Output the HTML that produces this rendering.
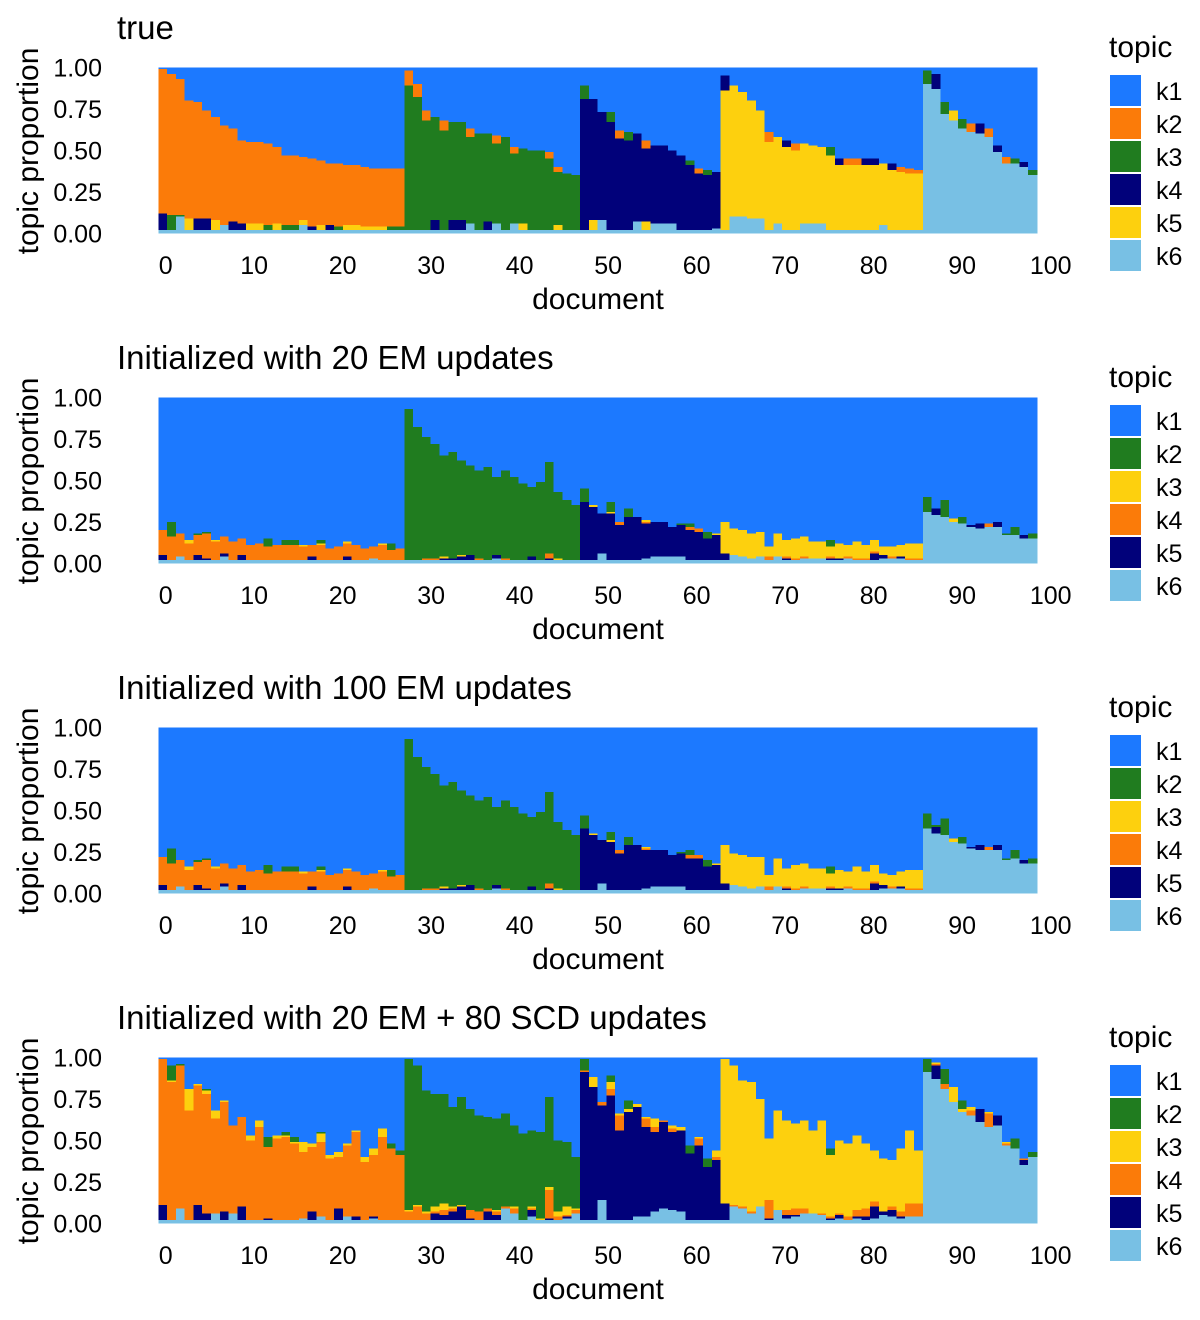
<!DOCTYPE html>
<html><head><meta charset="utf-8"><style>
html,body{margin:0;padding:0;background:#fff;}
svg{display:block;font-family:"Liberation Sans",Arial,sans-serif;}
</style></head><body>
<svg id="chart" width="1200" height="1320" viewBox="0 0 1200 1320" xmlns="http://www.w3.org/2000/svg"></svg>
<script>
// ---- data (percent) ----
const documents = Array.from({length:100},(_, i)=>i);
const xTickValues = [0,10,20,30,40,50,60,70,80,90,100];
const yTickValues = [0,0.25,0.5,0.75,1];
const yTickLabels = ["0.00","0.25","0.50","0.75","1.00"];
const panelTitles = ["true","Initialized with 20 EM updates","Initialized with 100 EM updates","Initialized with 20 EM + 80 SCD updates"];
const topicNames = ["k1","k2","k3","k4","k5","k6"];

// panel 1 (true)
const p1_k6 = [2,2,10,2,2,2,2,5,2,2,2,2,2,2,2,2,5,2,2,2,2,2,2,2,2,2,2,2, 2,2,2,2,2,2,2,6,2,2,6,2,6,2,2,2,2,2,2,2, 2,2,8,2,2,2,7,2,6,6,6,2,2,2,2,3, 2,10,10,9,9,2,6,2,2,6,6,6,2,2,2,2,2,2,5,2,2,2,2, 90,87,72,68,63,61,60,58,49,42,42,40,35];
const p1_k5 = [0,0,0,7,0,0,6,0,0,0,4,4,0,4,0,0,3,0,3,0,0,3,3,2,2,2,0,0, 0,0,0,0,0,0,0,0,0,0,0,0,0,4,0,0,0,3,0,0, 0,6,0,0,0,0,0,5,0,0,0,0,0,0,0,0, 84,79,75,71,65,53,52,50,48,48,47,46,45,39,39,39,39,39,37,36,35,34,34, 0,0,0,6,0,0,0,0,0,0,0,0,0];
const p1_k4 = [10,0,0,0,7,7,0,0,5,4,0,0,0,0,0,0,0,2,0,3,0,0,0,0,0,0,0,0, 0,0,0,6,0,6,6,0,0,5,0,0,0,0,0,0,0,0,0,0, 79,73,65,65,55,54,53,44,47,47,44,45,39,34,33,34, 9,0,0,0,0,0,0,4,0,0,0,0,0,4,0,0,4,4,0,4,0,0,0, 0,9,0,0,0,0,6,0,4,0,0,3,0];
const p1_k3 = [0,9,1,0,0,0,0,0,0,0,0,0,3,0,3,3,0,0,0,0,2,0,0,0,0,0,2,2, 87,80,66,62,60,59,59,52,58,53,48,56,42,45,48,48,43,32,34,33, 8,0,0,6,0,5,0,0,0,0,0,0,3,0,3,0, 0,0,0,0,0,0,0,0,0,0,0,0,5,0,0,0,0,0,0,0,0,0,0, 8,0,7,0,6,0,0,0,0,0,3,0,3];
const p1_k2 = [87,85,82,71,70,65,62,60,56,50,49,49,49,46,42,42,38,41,39,37,38,36,36,36,35,35,35,35, 9,8,6,0,6,0,0,5,0,0,5,0,4,0,0,0,4,3,0,0, 0,0,0,0,5,0,0,5,0,0,0,0,0,3,0,0, 0,0,0,0,0,6,0,0,4,0,0,0,0,0,4,4,0,0,0,0,3,3,2, 0,0,0,0,0,5,0,5,0,4,0,0,0];

// panel 2 (20 EM)
const p2_k6 = [2,2,4,2,2,2,2,4,2,2,2,2,2,2,2,2,2,2,2,2,2,2,2,2,3,2,2,2, 2,2,2,2,2,2,2,2,2,2,3,2,2,2,2,2,2,2,2,2, 2,2,6,2,2,2,2,3,4,4,4,4,2,2,2,2, 2,5,4,3,4,2,4,2,2,3,3,3,2,2,3,2,2,2,3,3,3,2,2, 31,29,28,25,24,22,21,22,22,17,17,15,15];
const p2_k5 = [3,0,0,0,3,1,0,2,0,3,0,0,0,0,0,0,0,2,0,0,0,2,0,0,0,0,0,0, 0,0,0,0,1,1,2,3,0,0,2,0,0,0,2,0,1,0,0,0, 35,32,24,28,21,26,26,21,21,21,18,19,18,17,13,15, 4,0,0,0,0,0,0,1,0,0,0,0,1,1,0,0,0,4,2,0,1,0,0, 0,4,0,0,0,1,3,0,3,0,0,2,0];
const p2_k4 = [15,14,14,10,12,15,11,10,11,10,9,10,8,9,9,9,8,7,9,7,8,8,9,7,7,9,6,7, 0,0,1,1,0,0,0,0,1,0,0,1,0,0,0,0,3,0,0,0, 0,0,0,0,2,0,0,1,0,0,0,0,2,2,0,0, 0,0,0,0,0,2,0,1,1,1,0,0,1,0,1,1,1,1,0,1,0,1,1, 0,0,0,0,0,0,0,2,0,0,0,0,0];
const p2_k3 = [0,0,0,2,0,0,1,0,0,0,0,0,0,0,0,0,1,0,1,0,0,1,0,0,0,1,0,0, 0,0,0,0,1,0,1,0,0,0,0,0,0,0,0,0,0,1,0,0, 0,1,0,1,0,0,0,1,0,0,0,0,0,0,0,1, 19,16,16,15,15,6,14,10,12,12,10,10,6,9,7,10,8,7,5,6,7,9,9, 0,0,0,2,0,0,0,0,0,0,0,0,0];
const p2_k2 = [0,9,0,0,1,1,0,0,0,0,0,0,5,0,3,3,0,0,2,0,0,0,0,0,0,0,4,0, 91,80,73,69,61,64,57,54,53,56,47,53,50,46,42,47,55,40,36,33, 8,0,0,6,0,5,0,0,0,0,0,1,2,0,4,0, 0,0,0,0,0,0,0,0,0,0,0,0,4,0,0,0,0,0,0,0,0,0,0, 9,0,10,0,4,0,0,0,0,1,5,0,3];

// panel 3 (100 EM)
const p3_k6 = [2,2,4,2,2,2,2,4,2,2,2,2,2,2,2,2,2,2,2,2,2,2,2,2,3,2,2,2, 2,2,2,2,2,2,2,2,2,2,3,2,2,2,2,2,2,2,2,2, 2,2,6,2,2,2,2,3,4,4,4,4,2,2,2,2, 2,5,4,3,4,2,4,2,2,3,3,3,2,2,3,2,2,2,3,3,3,2,2, 39,36,35,31,30,27,26,26,26,20,21,18,18];
const p3_k5 = [3,0,0,0,3,1,0,2,0,3,0,0,0,0,0,0,0,2,0,0,0,2,0,0,0,0,0,0, 0,0,0,0,1,1,2,3,0,0,2,0,0,0,2,0,1,0,0,0, 37,33,26,29,22,27,27,23,22,22,19,20,19,19,14,15, 4,0,0,0,0,0,0,1,0,0,0,0,1,1,0,0,0,4,2,0,1,0,0, 0,4,0,0,0,1,3,0,3,0,0,2,0];
const p3_k4 = [17,16,16,12,14,17,13,12,13,12,11,12,10,11,11,11,10,9,11,9,10,10,11,9,9,11,8,9, 0,0,1,1,0,0,0,0,1,0,0,1,0,0,0,0,3,0,0,0, 0,0,0,0,2,0,0,1,0,0,0,0,2,2,0,0, 0,0,0,0,0,2,0,1,1,1,0,0,1,0,1,1,1,1,0,1,0,1,1, 0,0,0,0,0,0,0,2,0,0,0,0,0];
const p3_k3 = [0,0,0,2,0,0,1,0,0,0,0,0,0,0,0,0,1,0,1,0,0,1,0,0,0,1,0,0, 0,0,0,0,1,0,1,0,0,0,0,0,0,0,0,0,0,1,0,0, 0,1,0,1,0,0,0,1,0,0,0,0,0,0,0,1, 23,19,19,19,18,7,17,11,14,14,12,12,8,11,9,13,10,10,7,7,9,11,11, 0,0,0,2,0,0,0,0,0,0,0,0,0];
const p3_k2 = [0,9,0,0,1,1,0,0,0,0,0,0,5,0,3,3,0,0,2,0,0,0,0,0,0,0,4,0, 91,80,73,69,61,64,57,54,53,56,47,53,50,46,42,47,55,40,36,33, 8,0,0,5,0,5,0,0,0,0,0,1,3,0,4,0, 0,0,0,0,0,0,0,0,0,0,0,0,4,0,0,0,0,0,0,0,0,0,0, 9,1,10,0,4,0,0,0,0,1,5,0,3];

// panel 4 (20 EM + 80 SCD)
const p4_k6 = [2,2,9,2,2,2,6,2,6,2,2,2,2,2,2,2,3,2,4,2,2,4,2,2,3,2,2,2, 2,2,2,2,2,2,2,2,2,2,2,9,6,2,4,2,2,2,3,6, 2,2,14,2,2,2,4,4,7,9,8,7,2,2,2,2, 2,10,9,6,10,2,8,3,4,6,6,5,2,3,2,3,2,3,5,4,3,4,4, 91,87,81,73,67,65,61,58,59,47,45,35,40];
const p4_k5 = [9,0,0,0,9,4,0,5,0,8,0,0,1,0,0,0,0,5,0,0,7,0,2,0,1,0,0,0, 0,0,0,4,3,5,8,1,0,5,3,0,0,0,4,0,1,0,1,0, 89,80,57,75,54,65,66,54,48,52,47,49,40,45,32,36, 10,0,0,0,0,1,0,2,1,0,0,0,1,2,0,1,2,7,2,4,1,0,0, 0,8,0,0,0,0,8,0,6,0,0,3,0];
const p4_k4 = [88,83,86,66,72,72,57,66,53,54,48,56,43,49,50,46,40,39,45,37,31,43,51,35,37,50,43,39, 5,8,4,1,3,2,0,5,5,2,2,1,3,0,1,0,17,2,1,2, 1,0,2,4,9,0,0,5,3,1,2,0,0,4,0,2, 0,1,1,1,0,11,0,3,4,3,0,1,1,1,2,4,5,3,0,2,3,8,8, 0,1,3,0,0,3,0,8,0,1,0,1,0];
const p4_k3 = [0,1,0,13,1,2,5,1,0,0,3,4,0,2,1,1,6,2,5,2,3,1,1,3,4,5,0,0, 1,1,1,3,4,1,1,0,0,0,1,0,1,0,1,1,2,3,5,1, 0,6,0,4,1,2,2,1,5,0,2,2,0,1,0,4, 87,84,76,78,65,37,60,54,51,53,50,56,37,44,44,45,39,31,32,28,38,44,32, 0,1,0,9,2,2,0,1,0,1,0,0,0];
const p4_k2 = [0,9,1,0,0,1,0,0,0,0,0,0,6,0,2,3,0,0,1,0,0,0,0,0,0,0,3,3, 91,84,73,68,66,60,65,61,58,55,55,56,49,52,46,52,54,43,39,31, 7,0,0,4,0,5,0,0,0,0,0,0,5,0,5,0, 0,0,0,0,0,0,0,0,0,0,0,0,4,0,0,0,0,0,0,0,0,0,0, 8,0,9,0,5,0,0,0,0,0,6,0,3];

// ---- drawing ----
const C_BLUE="#1c79ff", C_ORANGE="#fb7b09", C_GREEN="#207c1f", C_NAVY="#01017a", C_YELLOW="#fdd00e", C_LBLUE="#78c0e4";
const panelColors = [
  [C_BLUE,C_ORANGE,C_GREEN,C_NAVY,C_YELLOW,C_LBLUE],
  [C_BLUE,C_GREEN,C_YELLOW,C_ORANGE,C_NAVY,C_LBLUE],
  [C_BLUE,C_GREEN,C_YELLOW,C_ORANGE,C_NAVY,C_LBLUE],
  [C_BLUE,C_GREEN,C_YELLOW,C_ORANGE,C_NAVY,C_LBLUE]
];
const panels = [
  [p1_k2,p1_k3,p1_k4,p1_k5,p1_k6],
  [p2_k2,p2_k3,p2_k4,p2_k5,p2_k6],
  [p3_k2,p3_k3,p3_k4,p3_k5,p3_k6],
  [p4_k2,p4_k3,p4_k4,p4_k5,p4_k6]
];
const NS="http://www.w3.org/2000/svg";
const svg=document.getElementById('chart');
const PLOT_L=158.3, PLOT_R=1037, BAR_W=(PLOT_R-PLOT_L)/documents.length;
function barX(i){return PLOT_L+i*BAR_W;}
function tickX(v){return 164.7+8.85*v;}
function yScale(p,v){const top=67.3+330*p, bot=233.3+330*p; return bot-(bot-top)*v;}
function mk(tag,attrs,parent){const e=document.createElementNS(NS,tag);for(const k in attrs)e.setAttribute(k,attrs[k]);(parent||svg).appendChild(e);return e;}

panels.forEach((series,p)=>{
  const g=mk('g',{});
  
  
  const cols=panelColors[p];
  const t=mk('text',{x:117,y:39+330*p,'font-size':33,fill:'#000'},g);
  t.textContent=panelTitles[p];
  
  
  const bars=mk('g',{'shape-rendering':'crispEdges'},g);
  
  
  documents.forEach((d,i)=>{
    let cum=0;
    for(let s=4;s>=0;s--){
      const v=series[s][i]/100;
      if(v<=0) continue;
      const y0=yScale(p,cum), y1=yScale(p,Math.min(1,cum+v));
      const r=mk('rect',{x:barX(i).toFixed(2),y:y1.toFixed(2),width:(BAR_W+0.4).toFixed(2),height:(y0-y1).toFixed(2),fill:cols[s+1]},bars);
      
      
      cum+=v;
    }
    const rest=Math.max(0,1-cum);
    if(rest>0){
      const y0=yScale(p,cum), y1=yScale(p,1);
      const r=mk('rect',{x:barX(i).toFixed(2),y:y1.toFixed(2),width:(BAR_W+0.4).toFixed(2),height:(y0-y1).toFixed(2),fill:cols[0]},bars);
      
      
    }
  });
  yTickValues.forEach((v,j)=>{
    const tt=mk('text',{x:102,y:(yScale(p,v)+9).toFixed(1),'font-size':25,'text-anchor':'end',fill:'#000'},g);
    tt.textContent=yTickLabels[j];
    
    
  });
  xTickValues.forEach(v=>{
    const tt=mk('text',{x:(tickX(v)+1).toFixed(1),y:274+330*p,'font-size':25,'text-anchor':'middle',fill:'#000'},g);
    tt.textContent=String(v);
    
    
  });
  const xt=mk('text',{x:598,y:309+330*p,'font-size':30,'text-anchor':'middle',fill:'#000'},g);
  xt.textContent='document';
  
  
  const yt=mk('text',{x:0,y:0,'font-size':30,'text-anchor':'middle',fill:'#000',transform:'translate(38,'+(151+330*p)+') rotate(-90)'},g);
  yt.textContent='topic proportion';
  
  
  const lg=mk('g',{},g);
  
  
  const lt=mk('text',{x:1109,y:57+330*p,'font-size':30,fill:'#000'},lg);
  lt.textContent='topic';
  
  
  topicNames.forEach((nm,k)=>{
    const yy=75+330*p+k*33;
    const sw=mk('rect',{x:1110,y:yy,width:31,height:31,fill:cols[k]},lg);
    
    
    const lb=mk('text',{x:1156,y:yy+25,'font-size':25,fill:'#000'},lg);
    lb.textContent=nm;
    
    
  });
});
</script>
</body></html>
